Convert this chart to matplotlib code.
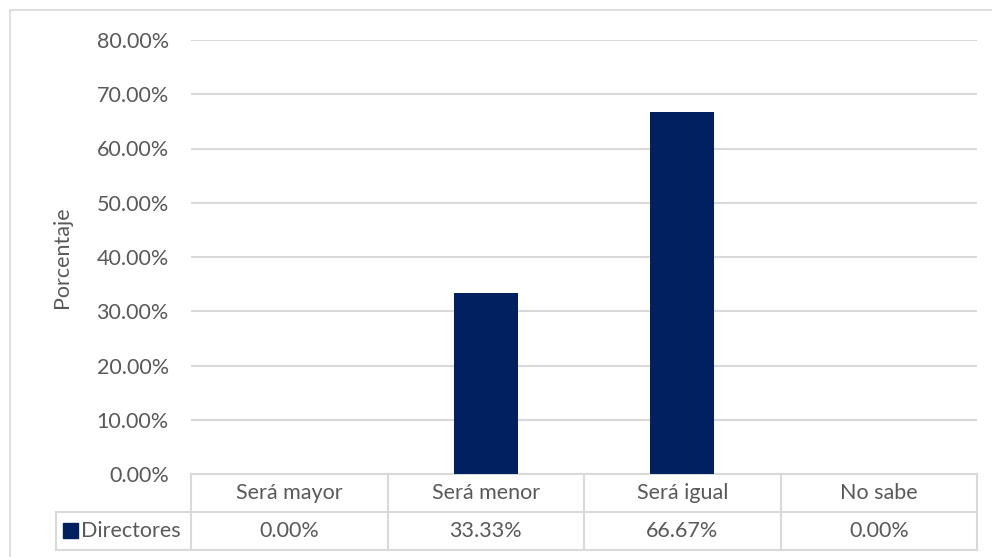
import matplotlib
matplotlib.use("Agg")
from matplotlib import pyplot as plt
from matplotlib.patches import Rectangle
from matplotlib.lines import Line2D
import matplotlib.transforms as mtransforms

# datos
categorias = ["Será mayor", "Será menor", "Será igual", "No sabe"]
valores = [0.0, 0.3333, 0.6667, 0.0]
serie = "Directores"
yticks = [0.0, 0.1, 0.2, 0.3, 0.4, 0.5, 0.6, 0.7, 0.8]

azul = "#002060"
gris_txt = "#595959"
gris_lin = "#d9d9d9"
fs = 15.5

plt.rcParams['font.family'] = ['Lato', 'DejaVu Sans']
W, H = 992, 557
fig = plt.figure(figsize=(W / 100, H / 100), dpi=100)

# marco exterior del grafico
fig.patches.append(Rectangle((10 / W, -0.1), 1.2, 0.1 + (H - 10) / H,
                             transform=fig.transFigure, fill=False,
                             edgecolor=gris_lin, linewidth=1.2))

ax_left, ax_right = 191, 977
ax_top, ax_bot = 40, 474
ax = fig.add_axes([ax_left / W, (H - ax_bot) / H,
                   (ax_right - ax_left) / W, (ax_bot - ax_top) / H])

x = range(len(categorias))
ax.bar(x, valores, width=0.325, color=azul, zorder=3)
ax.set_xlim(-0.5, len(categorias) - 0.5)
ax.set_ylim(0, 0.8)
ax.set_yticks(yticks)
ax.set_yticklabels(["%.2f%%" % (v * 100) for v in yticks], color=gris_txt, fontsize=fs)
ax.tick_params(axis='y', length=0, pad=16)
ax.set_xticks([])
ax.grid(axis='y', color=gris_lin, linewidth=1.5, zorder=0)
for s in ax.spines.values():
    s.set_visible(False)
ax.set_ylabel("Porcentaje", color=gris_txt, fontsize=fs)
ax.yaxis.set_label_coords(-(ax_left - 72) / (ax_right - ax_left), 0.5)

# tabla de datos
tr = mtransforms.blended_transform_factory(ax.transData, ax.transAxes)
hpx = ax_bot - ax_top
r1 = -38 / hpx
r2 = -76 / hpx
n = len(categorias)
x_leg = -0.5 - 135 / ((ax_right - ax_left) / n)
lk = dict(color=gris_lin, linewidth=1.5, transform=tr, clip_on=False)
ax.add_line(Line2D([-0.5, n - 0.5], [0, 0], **lk))
ax.add_line(Line2D([x_leg, n - 0.5], [r1, r1], **lk))
ax.add_line(Line2D([x_leg, n - 0.5], [r2, r2], **lk))
ax.add_line(Line2D([x_leg, x_leg], [r1, r2], **lk))
for i in range(n + 1):
    ax.add_line(Line2D([i - 0.5, i - 0.5], [0, r2], **lk))

for i, (c, v) in enumerate(zip(categorias, valores)):
    ax.text(i, r1 / 2, c, transform=tr, ha='center', va='center',
            color=gris_txt, fontsize=fs)
    ax.text(i, (r1 + r2) / 2, "%.2f%%" % (v * 100), transform=tr,
            ha='center', va='center', color=gris_txt, fontsize=fs)

# leyenda dentro de la tabla
fig.patches.append(Rectangle((63 / W, (H - 538) / H), 15 / W, 15 / H,
                             transform=fig.transFigure, color=azul))
fig.text(81 / W, (H - 531) / H, serie, ha='left', va='center',
         color=gris_txt, fontsize=fs)

fig.savefig("out.png", dpi=100)
